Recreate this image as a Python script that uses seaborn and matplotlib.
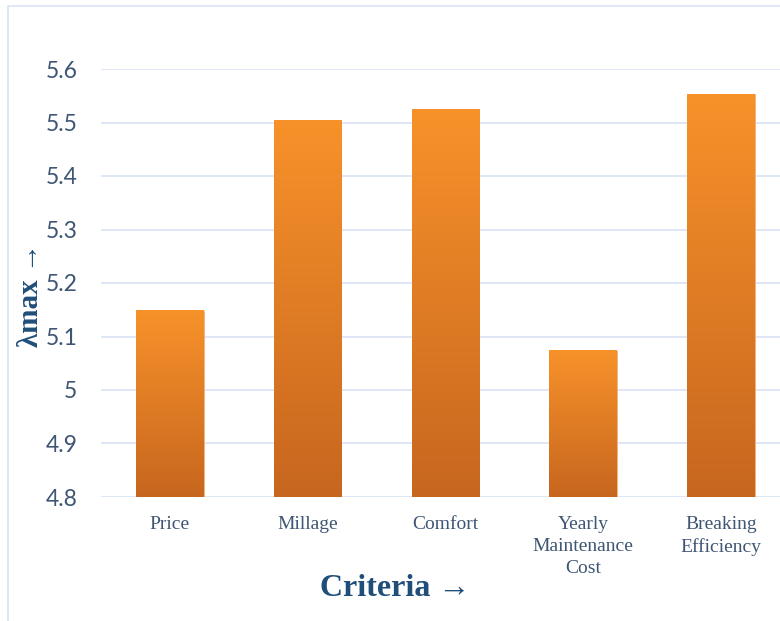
import matplotlib
matplotlib.use("Agg")
import matplotlib.pyplot as plt
import numpy as np
import pandas as pd
import seaborn as sns
from matplotlib.colors import LinearSegmentedColormap
from matplotlib.patches import Rectangle

criteria = ["Price", "Millage", "Comfort", "Yearly\nMaintenance\nCost", "Breaking\nEfficiency"]
lambda_max = [5.148, 5.503, 5.525, 5.073, 5.553]
y_ticks = [4.8, 4.9, 5.0, 5.1, 5.2, 5.3, 5.4, 5.5, 5.6]
y_tick_labels = ["4.8", "4.9", "5", "5.1", "5.2", "5.3", "5.4", "5.5", "5.6"]

TEXT_BLUE = "#3E5573"
TITLE_BLUE = "#1F4E79"
GRID = "#D9E2F3"
SERIF = ["Liberation Serif", "DejaVu Serif"]
Y_MIN, Y_MAX = 4.8, 5.6

sns.set_style("white")

df = pd.DataFrame({"criteria": criteria, "lambda_max": lambda_max})

fig = plt.figure(figsize=(7.8, 6.21), dpi=100)
# light blue chart border (right and bottom edges run off the picture)
fig.patches.append(Rectangle((8 / 780, -0.05), 1.0, 1.05 - 6 / 621, transform=fig.transFigure,
                             fill=False, edgecolor="#DAE3F3", linewidth=1.2))
ax = fig.add_axes([101 / 780, 1 - 497 / 621, 1 - 101 / 780, (497 - 69) / 621])

sns.barplot(data=df, x="criteria", y="lambda_max", ax=ax, width=0.49,
            color="#E8862A", saturation=1, zorder=2)

# vertical orange gradient inside the visible part of each bar
grad = LinearSegmentedColormap.from_list("org", ["#C7661F", "#F7922A"])
gvals = np.linspace(0, 1, 256).reshape(-1, 1)
for p in ax.patches:
    x0, w, top = p.get_x(), p.get_width(), p.get_y() + p.get_height()
    ax.imshow(gvals, cmap=grad, origin="lower", aspect="auto",
              extent=[x0, x0 + w, Y_MIN, top], zorder=3)
    p.set_edgecolor("#F5B27A")
    p.set_linewidth(0.6)

ax.set_xlim(-0.5, 4.43)
ax.set_ylim(Y_MIN, Y_MAX)
ax.set_yticks(y_ticks)
ax.set_yticklabels(y_tick_labels)
ax.yaxis.grid(True, color=GRID, linewidth=1.2, zorder=0)
ax.set_axisbelow(True)
for s in ax.spines.values():
    s.set_visible(False)
ax.tick_params(axis="both", length=0)
ax.tick_params(axis="y", labelsize=16.5, labelcolor=TEXT_BLUE, pad=17)
for lab in ax.get_yticklabels():
    lab.set_family(["Lato", "DejaVu Sans"])
ax.tick_params(axis="x", labelsize=14, labelcolor=TEXT_BLUE, pad=14)
for lab in ax.get_xticklabels():
    lab.set_family(SERIF)
    lab.set_linespacing(1.35)
    lab.set_verticalalignment("top")

ax.set_xlabel("")
ax.set_ylabel("")
fig.text(395 / 780, 1 - 588 / 621, "Criteria \u2192", ha="center", va="center",
         fontsize=23, fontweight="bold", color=TITLE_BLUE, family=SERIF)
fig.text(30 / 780, 1 - 295 / 621, "\u03bbmax \u2192", ha="center", va="center",
         rotation=90, fontsize=21, fontweight="bold", color=TITLE_BLUE, family=SERIF)

fig.savefig("out.png", dpi=100)
